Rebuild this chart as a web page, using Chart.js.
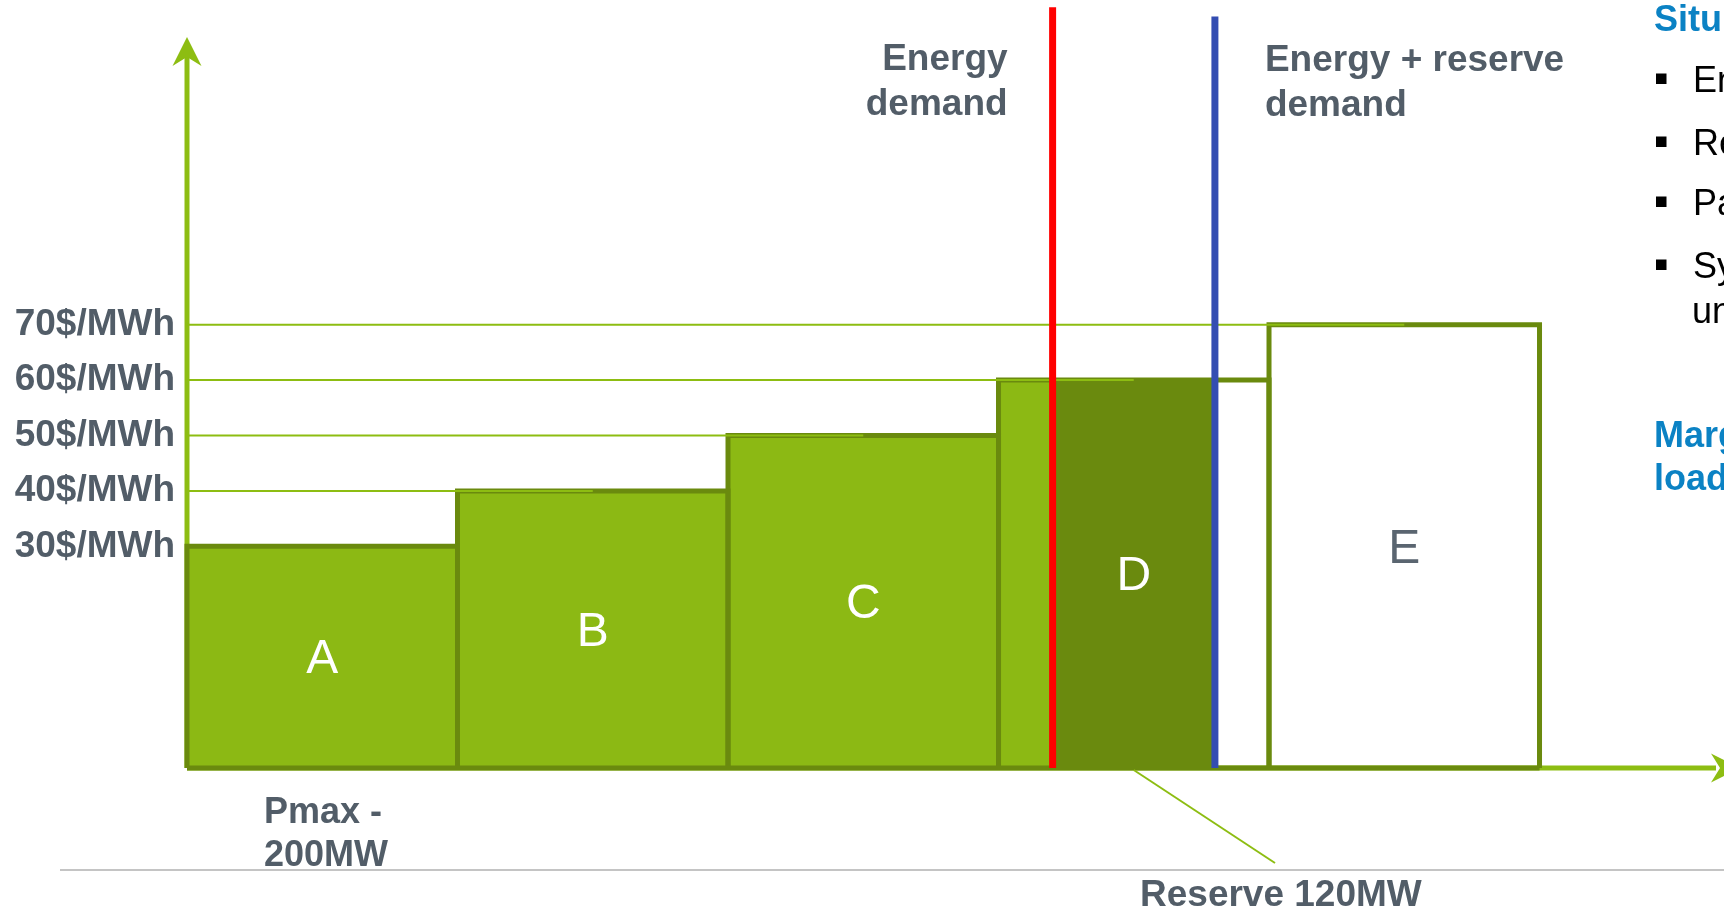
<!DOCTYPE html>
<html>
<head>
<meta charset="utf-8">
<title>Energy and reserve dispatch – merit order</title>
<script src="https://cdn.jsdelivr.net/npm/chart.js@4.4.1/dist/chart.umd.min.js"></script>
<style>
  html, body { margin: 0; padding: 0; background: #ffffff; }
  #wrap { width: 1724px; height: 909px; position: relative; }
</style>
</head>
<body>
<div id="wrap"><canvas id="stack"></canvas></div>
<script>
// Merit-order stack: five generating units offered at rising prices
const units = ['A', 'B', 'C', 'D', 'E'];
const unitCapacityMW = [200, 200, 200, 200, 200];
const unitPrice = [30, 40, 50, 60, 70];            // $/MWh
const priceTicks = [30, 40, 50, 60, 70];
const priceTickLabels = ['30$/MWh', '40$/MWh', '50$/MWh', '60$/MWh', '70$/MWh'];
const energyDemandMW = 640;
const reserveMW = 120;
const demandLineTop = [127.3, 125.6];              // upper end of the two demand lines ($/MWh axis)

// The price axis is truncated: the stack stands on the axis floor
const PRICE_FLOOR = -10;
const PRICE_CEIL = 128.6;
const MW_MAX = 1136.4;

const FONT = '"Liberation Sans", Arial, Helvetica, sans-serif';
const LIGHT = '#8cb914';
const DARK = '#6a8a0e';
const AXIS = '#8dbd12';
const GRAY = '#525d68';
const BLUE_TXT = '#0b82c4';

// cumulative position of each unit along the MW axis
const unitStart = [];
let acc = 0;
unitCapacityMW.forEach(c => { unitStart.push(acc); acc += c; });
const totalMW = acc;

const rect = (x0, x1, p) => [
  { x: x0, y: PRICE_FLOOR }, { x: x0, y: p }, { x: x1, y: p }, { x: x1, y: PRICE_FLOOR }
];

const datasets = [];
const reserveEnd = energyDemandMW + reserveMW;

units.forEach((u, i) => {
  const x0 = unitStart[i], x1 = x0 + unitCapacityMW[i], p = unitPrice[i];
  // share of the unit dispatched for energy
  const e1 = Math.min(x1, energyDemandMW);
  if (e1 > x0) {
    datasets.push({ label: u + ' energy', data: rect(x0, e1, p), backgroundColor: LIGHT,
      borderColor: 'rgba(0,0,0,0)', borderWidth: 0, fill: 'start', order: 4 });
  }
  // share of the unit held as reserve
  const r0 = Math.max(x0, energyDemandMW), r1 = Math.min(x1, reserveEnd);
  if (r1 > r0) {
    datasets.push({ label: u + ' reserve', data: rect(r0, r1, p), backgroundColor: DARK,
      borderColor: 'rgba(0,0,0,0)', borderWidth: 0, fill: 'start', order: 4 });
  }
  // unit outline
  datasets.push({ label: u, data: rect(x0, x1, p), borderColor: DARK, borderWidth: 5,
    fill: false, order: 3, clip: false });
});

// common floor of the stack
datasets.push({ label: 'floor', data: [{ x: 0, y: PRICE_FLOOR }, { x: totalMW, y: PRICE_FLOOR }],
  borderColor: DARK, borderWidth: 5, fill: false, order: 2, clip: false });

// price guide lines running from the axis into the unit offered at that price
priceTicks.forEach(p => {
  const i = unitPrice.indexOf(p);
  if (i < 0 || unitStart[i] === 0) return;
  const mid = unitStart[i] + unitCapacityMW[i] / 2;
  datasets.push({ label: 'guide ' + p, data: [{ x: 0, y: p }, { x: mid, y: p }],
    borderColor: AXIS, borderWidth: 2, fill: false, order: 1 });
});

// demand lines
datasets.push({ label: 'Energy demand',
  data: [{ x: energyDemandMW, y: PRICE_FLOOR }, { x: energyDemandMW, y: demandLineTop[0] }],
  borderColor: '#ff0000', borderWidth: 7, fill: false, order: 0, clip: false });
datasets.push({ label: 'Energy + reserve demand',
  data: [{ x: reserveEnd, y: PRICE_FLOOR }, { x: reserveEnd, y: demandLineTop[1] }],
  borderColor: '#334db2', borderWidth: 7, fill: false, order: 0, clip: false });

function arrowHead(ctx, tipX, tipY, dirX, dirY) {
  const len = 29, half = 14.5, notch = 9;
  const bx = tipX - dirX * len, by = tipY - dirY * len;
  const nx = tipX - dirX * (len - notch), ny = tipY - dirY * (len - notch);
  ctx.beginPath();
  ctx.moveTo(tipX, tipY);
  ctx.lineTo(bx - dirY * half, by + dirX * half);
  ctx.lineTo(nx, ny);
  ctx.lineTo(bx + dirY * half, by - dirX * half);
  ctx.closePath();
  ctx.fill();
}

const decor = {
  id: 'decor',
  beforeDatasetsDraw(chart) {
    const { ctx, chartArea: a, scales: { y } } = chart;
    const yb = y.getPixelForValue(PRICE_FLOOR);
    ctx.save();
    ctx.strokeStyle = AXIS;
    ctx.fillStyle = AXIS;
    ctx.lineWidth = 5;
    // price axis with arrow
    ctx.beginPath();
    ctx.moveTo(a.left, yb);
    ctx.lineTo(a.left, 55);
    ctx.stroke();
    arrowHead(ctx, a.left, 37, 0, -1);
    // MW axis with arrow
    ctx.beginPath();
    ctx.moveTo(a.left, yb);
    ctx.lineTo(a.right - 8, yb);
    ctx.stroke();
    arrowHead(ctx, a.right + 16, yb, 1, 0);
    ctx.restore();
  },
  afterDatasetsDraw(chart) {
    const { ctx, scales: { x, y } } = chart;
    ctx.save();

    // unit names centred in each block
    ctx.font = '48px ' + FONT;
    ctx.textAlign = 'center';
    ctx.textBaseline = 'middle';
    units.forEach((u, i) => {
      const cx = x.getPixelForValue(unitStart[i] + unitCapacityMW[i] / 2);
      const cy = (y.getPixelForValue(unitPrice[i]) + y.getPixelForValue(PRICE_FLOOR)) / 2 + 3;
      const dispatched = unitStart[i] < reserveEnd;
      ctx.fillStyle = dispatched ? '#ffffff' : '#5a6570';
      ctx.fillText(u, cx, cy);
    });

    // demand annotations
    const xr = x.getPixelForValue(energyDemandMW);
    const xb = x.getPixelForValue(reserveEnd);
    ctx.fillStyle = GRAY;
    ctx.font = 'bold 37px ' + FONT;
    ctx.textBaseline = 'alphabetic';
    ctx.textAlign = 'right';
    ctx.fillText('Energy', xr - 45, 70);
    ctx.fillText('demand', xr - 45, 115);
    ctx.textAlign = 'left';
    ctx.fillText('Energy + reserve', xb + 50, 71);
    ctx.fillText('demand', xb + 50, 116);

    // unit capacity note
    ctx.font = 'bold 36px ' + FONT;
    ctx.fillText('Pmax -', 264, 823);
    ctx.fillText('200MW', 264, 866);

    // reserve call-out
    const yb = y.getPixelForValue(PRICE_FLOOR);
    ctx.strokeStyle = AXIS;
    ctx.lineWidth = 2;
    ctx.beginPath();
    ctx.moveTo(x.getPixelForValue(energyDemandMW + reserveMW / 2), yb + 2);
    ctx.lineTo(1275, 863);
    ctx.stroke();

    // footer rule
    ctx.strokeStyle = '#c4c4c4';
    ctx.lineWidth = 2;
    ctx.beginPath();
    ctx.moveTo(60, 870);
    ctx.lineTo(1724, 870);
    ctx.stroke();

    ctx.fillStyle = GRAY;
    ctx.font = 'bold 37px ' + FONT;
    ctx.fillText('Reserve ' + reserveMW + 'MW', 1140, 906);

    // side panel, running off the right edge
    ctx.fillStyle = BLUE_TXT;
    ctx.font = 'bold 36px ' + FONT;
    ctx.fillText('Situ', 1654, 31);
    ctx.fillText('Marg', 1654, 447);
    ctx.fillText('load', 1654, 490);

    ctx.fillStyle = '#000000';
    ctx.font = '36px ' + FONT;
    [['En', 92], ['Re', 155], ['Pa', 215], ['Sy', 278]].forEach(([t, base]) => {
      ctx.fillRect(1656, base - 18.5, 10.5, 10.5);
      ctx.fillText(t, 1693, base);
    });
    ctx.fillText('un', 1692, 323);

    ctx.restore();
  }
};

new Chart(document.getElementById('stack'), {
  type: 'line',
  data: { datasets },
  options: {
    responsive: true,
    maintainAspectRatio: false,
    animation: false,
    elements: { point: { radius: 0, hoverRadius: 0 }, line: { tension: 0, borderCapStyle: 'butt', borderJoinStyle: 'miter' } },
    layout: { padding: { top: 0, right: 0, bottom: 141, left: 0 } },
    plugins: { legend: { display: false }, tooltip: { enabled: false } },
    events: [],
    scales: {
      x: { type: 'linear', min: 0, max: MW_MAX, display: false },
      y: {
        type: 'linear', min: PRICE_FLOOR, max: PRICE_CEIL, bounds: 'data',
        afterBuildTicks: s => { s.ticks = priceTicks.map(v => ({ value: v })); },
        afterFit: s => { s.width = 187; s.paddingTop = 0; s.paddingBottom = 0; },
        grid: { display: false, drawTicks: false },
        border: { display: false },
        ticks: {
          autoSkip: false, padding: 12, color: GRAY,
          font: { family: FONT, size: 37, weight: 'bold' },
          callback: (v, i) => priceTickLabels[i]
        }
      }
    }
  },
  plugins: [decor]
});
</script>
</body>
</html>
